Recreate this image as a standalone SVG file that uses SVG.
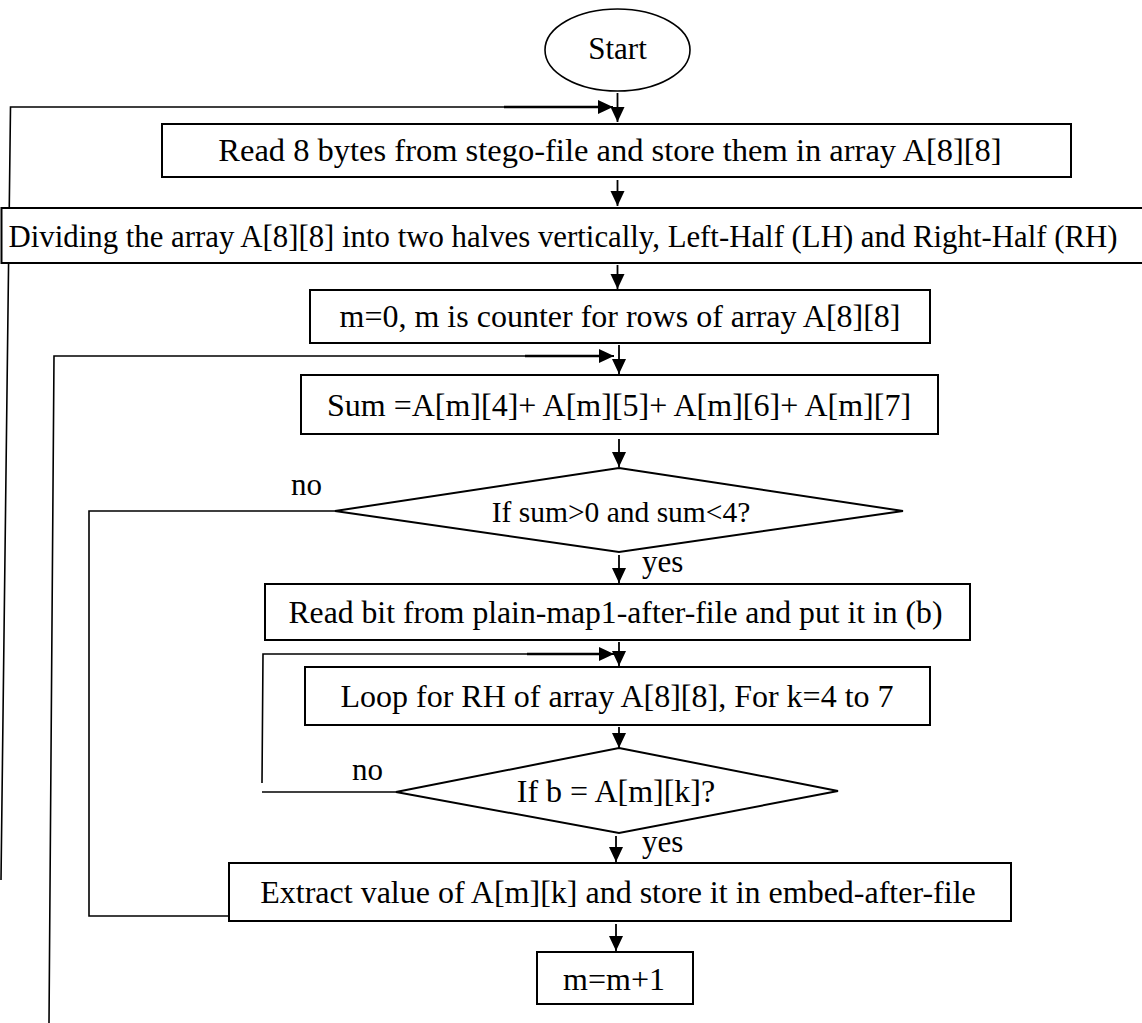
<svg xmlns="http://www.w3.org/2000/svg" width="1142" height="1023" viewBox="0 0 1142 1023">
<style>
.box{fill:#fff;stroke:#000;stroke-width:2}
.t{font-family:"Liberation Serif","Times New Roman",serif;fill:#000;text-anchor:middle}
.l{font-family:"Liberation Serif","Times New Roman",serif;fill:#000}
.c{fill:none;stroke:#000;stroke-width:1.6}
.th{fill:none;stroke:#000;stroke-width:2.6}
.a{fill:none;stroke:#000;stroke-width:1.8;marker-end:url(#ah)}
</style>
<defs>
<marker id="ah" markerUnits="userSpaceOnUse" markerWidth="15" markerHeight="15" refX="15" refY="7.5" orient="auto" viewBox="0 0 15 15">
<path d="M0,0.5 L15,7.5 L0,14.5 z" fill="#000"/>
</marker>
</defs>
<rect width="1142" height="1023" fill="#fff"/>
<g id="connectors">
<polyline class="c" points="1,880 10.5,107 612,107"/>
<line class="th" x1="504" y1="107" x2="604" y2="107"/>
<line class="a" x1="504" y1="107" x2="613" y2="107"/>
<polyline class="c" points="49,1023 54,356 612,356"/>
<line class="th" x1="525" y1="356" x2="604" y2="356"/>
<line class="a" x1="525" y1="356" x2="614" y2="356"/>
<polyline class="c" points="335,511 89,511 89,916 229,916"/>
<polyline class="c" points="396,792 262,792"/>
<polyline class="c" points="262,783 263,654 612,654"/>
<line class="th" x1="527" y1="654" x2="604" y2="654"/>
<line class="a" x1="527" y1="654" x2="614" y2="654"/>
<line class="a" x1="617.5" y1="93" x2="617.5" y2="122"/>
<line class="a" x1="617.5" y1="180" x2="617.5" y2="206"/>
<line class="a" x1="617.5" y1="265" x2="617.5" y2="289"/>
<line class="a" x1="619" y1="345" x2="619" y2="374"/>
<line class="a" x1="619" y1="439" x2="619" y2="467"/>
<line class="a" x1="619" y1="555" x2="619" y2="583"/>
<line class="a" x1="619" y1="642" x2="619" y2="666"/>
<line class="a" x1="619" y1="727" x2="619" y2="748"/>
<line class="a" x1="616" y1="836" x2="616" y2="862"/>
<line class="a" x1="616" y1="924" x2="616" y2="951"/>
</g>
<g id="start">
<ellipse cx="617.5" cy="50" rx="72.5" ry="41" fill="#fff" stroke="#000" stroke-width="1.6"/>
<text class="t" x="617.5" y="59" font-size="31">Start</text>
</g>
<g id="read8">
<rect class="box" x="162" y="124" width="909" height="53"/>
<text class="t" x="610" y="161" font-size="32.5">Read 8 bytes from stego-file and store them in array A[8][8]</text>
</g>
<g id="divide">
<rect class="box" x="1.5" y="208" width="1150" height="55"/>
<text class="t" x="563" y="247" font-size="30.8">Dividing the array A[8][8] into two halves vertically, Left-Half (LH) and Right-Half (RH)</text>
</g>
<g id="init">
<rect class="box" x="310" y="290" width="620" height="53"/>
<text class="t" x="620" y="327" font-size="32">m=0, m is counter for rows of array A[8][8]</text>
</g>
<g id="sum">
<rect class="box" x="301" y="375" width="637" height="59"/>
<text class="t" x="619" y="416" font-size="32">Sum =A[m][4]+ A[m][5]+ A[m][6]+ A[m][7]</text>
</g>
<g id="dec1">
<polygon class="box" points="619,468 903,511 619,552 335,511"/>
<text class="t" x="621" y="522" font-size="29.5">If sum&gt;0 and sum&lt;4?</text>
<text class="l" x="291" y="495" font-size="31">no</text>
<text class="l" x="642" y="572" font-size="31">yes</text>
</g>
<g id="readbit">
<rect class="box" x="265" y="584" width="705" height="56"/>
<text class="t" x="615.5" y="623" font-size="31.7">Read bit from plain-map1-after-file and put it in (b)</text>
</g>
<g id="loop">
<rect class="box" x="305" y="667" width="625" height="58"/>
<text class="t" x="617" y="707" font-size="32">Loop for RH of array A[8][8], For k=4 to 7</text>
</g>
<g id="dec2">
<polygon class="box" points="619,748 838,791 619,833 396,792"/>
<text class="t" x="616" y="802" font-size="32">If b = A[m][k]?</text>
<text class="l" x="352" y="780" font-size="31">no</text>
<text class="l" x="642" y="852" font-size="31">yes</text>
</g>
<g id="extract">
<rect class="box" x="229" y="863" width="782" height="58"/>
<text class="t" x="618" y="903" font-size="32">Extract value of A[m][k] and store it in embed-after-file</text>
</g>
<g id="incr">
<rect class="box" x="537" y="952" width="156" height="52"/>
<text class="t" x="614" y="990" font-size="32">m=m+1</text>
</g>
</svg>
